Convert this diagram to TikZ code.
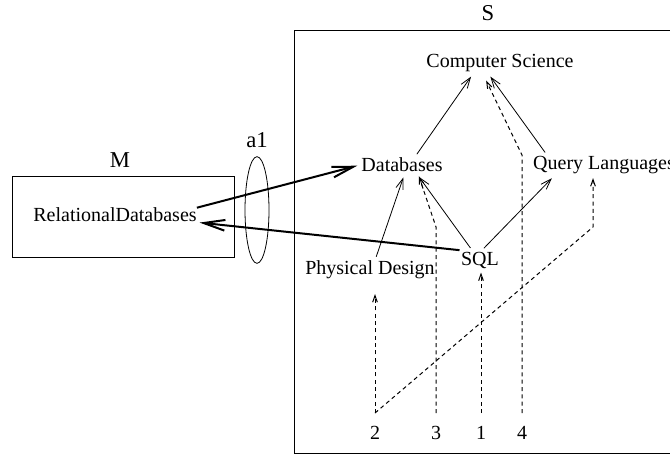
\documentclass[tikz,border=0pt]{standalone}
\usepackage{fontspec}
\setmainfont{Liberation Serif}
\usetikzlibrary{arrows.meta,shapes.geometric}
\begin{document}
\begin{tikzpicture}[
	x=0.75pt, y=-0.75pt,
	concept/.style={ inner sep=1pt, font=\fontsize{15}{18}\selectfont },
	title/.style={ inner sep=1pt, font=\fontsize{17}{20}\selectfont },
	isa/.style={ line width=0.6pt, shorten <=2pt, shorten >=3pt, -{Straight Barb[length=8pt,width=5.5pt]} },
	maps/.style={ line width=1.5pt, shorten >=2pt, -{Straight Barb[length=16pt,width=8pt]} },
	walk/.style={ line width=0.75pt, dash pattern=on 3pt off 2.5pt, shorten >=2pt, -{Straight Barb[length=5pt,width=3.5pt]} }
]
\useasboundingbox (0,0) rectangle (670,454);

\draw[line width=0.6pt] (671,30) -- (294,30) -- (294,453) -- (671,453);
\draw[line width=0.6pt] (12,176) rectangle (234,257);
\node[draw, line width=0.6pt, ellipse, minimum width=18pt, minimum height=80pt, inner sep=0pt] at (257,210) (ring) {};

\node[title] at (488,13) (sname) {S};
\node[title] at (120,160) (mname) {M};
\node[title] at (257,140) (aname) {a1};

\node[concept] at (500,63) (cs) {Computer Science};
\node[concept] at (402,165) (db) {Databases};
\node[concept] at (604,165) (ql) {Query Languages};
\node[concept] at (480,260) (sql) {SQL};
\node[concept] at (370,270) (pd) {Physical Design};
\node[concept, inner sep=0pt] at (115,215) (rd) {RelationalDatabases};

\node[concept] at (375,433) (n2) {2};
\node[concept] at (436,433) (n3) {3};
\node[concept] at (481,433) (n1) {1};
\node[concept] at (522,433) (n4) {4};

\coordinate (s1) at (481,413);
\coordinate (s2) at (375,413);
\coordinate (s3) at (436,413);
\coordinate (s4) at (522,413);
\coordinate (k2) at (593,227);
\coordinate (k3) at (436,227);
\coordinate (k4) at (522,155);

\draw[isa] ([xshift=10pt]db.north) -- ([xshift=-20pt]cs.south);
\draw[isa] ([xshift=-43pt]ql.north) -- ([xshift=-9pt]cs.south);
\draw[isa] ([xshift=4pt]pd.north) -- ([xshift=2pt]db.south);
\draw[isa] ([xshift=-6pt]sql.north) -- ([xshift=11pt]db.south);
\draw[isa] ([xshift=1.5pt]sql.north) -- ([xshift=-37pt]ql.south);

\draw[maps] (sql.north west) -- (rd.south east);
\draw[maps] (rd.north east) -- (db.west);

\draw[walk] (s1) -- (s1 |- sql.south);
\draw[walk, shorten >=10pt] (s2) -- (s2 |- pd.south);
\draw[walk] (s2) -- (k2) -- (k2 |- ql.south);
\draw[walk] (s3) -- (k3) -- ([xshift=12pt]db.south);
\draw[walk, shorten >=6pt] (s4) -- (k4) -- ([xshift=-13pt]cs.south);

\end{tikzpicture}
\end{document}
